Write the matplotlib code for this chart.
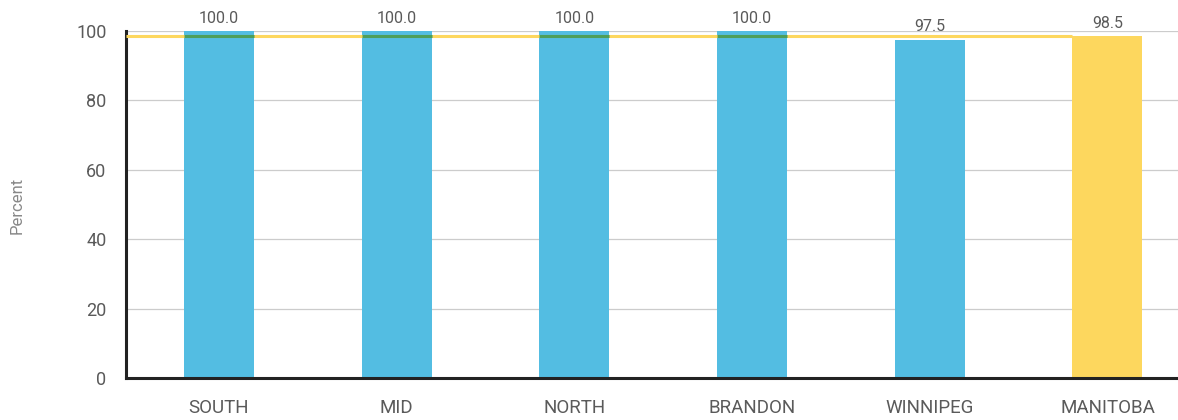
import matplotlib
matplotlib.use("Agg")
import matplotlib.pyplot as plt
import numpy as np

plt.rcParams['font.family'] = ['Roboto', 'DejaVu Sans']

regions = ['SOUTH', 'MID', 'NORTH', 'BRANDON', 'WINNIPEG', 'MANITOBA']
percent = [100.0, 100.0, 100.0, 100.0, 97.5, 98.5]
province = 98.5

blue = '#53BDE2'
yellow = '#FDD75E'
grey_text = '#5a5a5a'

fig = plt.figure(figsize=(11.78, 4.2), dpi=100)
ax = fig.add_axes([126 / 1178, 42 / 420, 1052 / 1178, 347 / 420])

x = np.arange(len(regions))
w = 0.394
colors = [blue] * (len(regions) - 1) + [yellow]
ax.bar(x, percent, width=w, color=colors, zorder=2)

ax.set_xlim(-0.523, 5.397)
ax.set_ylim(0, 100)

# provincial rate as a reference line up to the Manitoba bar
ax.hlines(province, -0.523, x[-1] - w / 2, color=yellow, lw=2.2, zorder=3)
for xi, v in zip(x[:-1], percent[:-1]):
    if v >= province:
        ax.hlines(province, xi - w / 2, xi + w / 2, color='#4E9E5A', lw=2.2, zorder=4)

for xi, v in zip(x, percent):
    ax.text(xi, v + 1.5, f'{v:.1f}', ha='center', va='bottom',
            fontsize=11.5, color=grey_text)

ax.set_yticks(range(0, 101, 20))
ax.yaxis.grid(True, color='#cccccc', lw=0.9, zorder=0)
ax.set_axisbelow(True)
ax.tick_params(axis='y', length=0, pad=14, labelsize=13, labelcolor=grey_text)
ax.set_xticks(x)
ax.set_xticklabels(regions)
ax.tick_params(axis='x', length=0, pad=15, labelsize=13.5, labelcolor=grey_text)

for side in ['top', 'right']:
    ax.spines[side].set_visible(False)
ax.spines['left'].set_linewidth(2.2)
ax.spines['bottom'].set_linewidth(2.2)
ax.spines['left'].set_color('#222222')
ax.spines['bottom'].set_color('#222222')

fig.text(17 / 1178, 1 - 205 / 420, 'Percent', rotation=90, ha='center', va='center',
         fontsize=12, color='#888888')

fig.savefig('out.png', dpi=100)
